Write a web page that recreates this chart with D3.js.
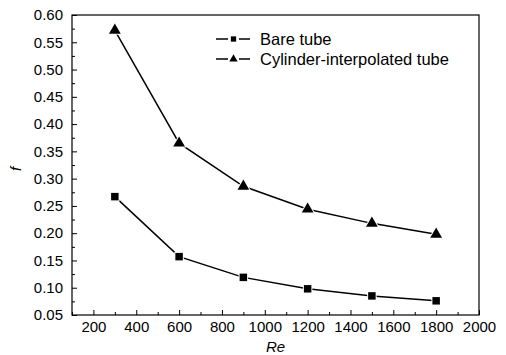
<!DOCTYPE html>
<html>
<head>
<meta charset="utf-8">
<script src="https://cdn.jsdelivr.net/npm/d3@7"></script>
<style>
  body { margin: 0; background: #fff; }
  svg { display: block; font-family: "Liberation Sans", Arial, sans-serif; }
</style>
</head>
<body>
<svg id="chart" width="506" height="355"></svg>
<script>
// Re values and friction factor f
let reValues = [300, 600, 900, 1200, 1500, 1800];
let bareTube = [0.267, 0.157, 0.119, 0.098, 0.085, 0.076];
let cylinderTube = [0.572, 0.365, 0.286, 0.244, 0.218, 0.198];
let seriesNames = ['Bare tube', 'Cylinder-interpolated tube'];
let xTicks = [200, 400, 600, 800, 1000, 1200, 1400, 1600, 1800, 2000];
let yTicks = [0.05, 0.10, 0.15, 0.20, 0.25, 0.30, 0.35, 0.40, 0.45, 0.50, 0.55, 0.60];

let margin = { left: 72, right: 27, top: 15, bottom: 40 };
let width = 506, height = 355;

let svg = d3.select('#chart');

let xScale = d3.scaleLinear()
  .domain([100, 2000])
  .range([margin.left, width - margin.right]);

let yScale = d3.scaleLinear()
  .domain([0.05, 0.60])
  .range([height - margin.bottom, margin.top]);

// frame
svg.append('rect')
  .attr('x', xScale(100))
  .attr('y', yScale(0.60))
  .attr('width', xScale(2000) - xScale(100))
  .attr('height', yScale(0.05) - yScale(0.60))
  .style('fill', 'none')
  .style('stroke', '#000')
  .style('stroke-width', 1.2);

// minor ticks
let xMinor = d3.range(100, 2000, 100).filter(d => d % 200 != 0);
let yMinor = d3.range(0.075, 0.6, 0.05);

let xAxis = d3.axisBottom(xScale).tickValues(xTicks).tickFormat(d3.format('d')).tickSizeInner(-5).tickSizeOuter(0).tickPadding(6);
svg.append('g').attr('transform', `translate(0, ${yScale(0.05)})`).call(xAxis);
svg.append('g').attr('transform', `translate(0, ${yScale(0.05)})`)
  .call(d3.axisBottom(xScale).tickValues(xMinor).tickFormat('').tickSizeInner(-3).tickSizeOuter(0));

let yAxis = d3.axisLeft(yScale).tickValues(yTicks).tickFormat(d3.format('.2f')).tickSizeInner(-5).tickSizeOuter(0).tickPadding(9);
svg.append('g').attr('transform', `translate(${xScale(100)}, 0)`).call(yAxis);
svg.append('g').attr('transform', `translate(${xScale(100)}, 0)`)
  .call(d3.axisLeft(yScale).tickValues(yMinor).tickFormat('').tickSizeInner(-3).tickSizeOuter(0));

svg.selectAll('.domain').remove();
svg.selectAll('.tick line').style('stroke', '#000').style('stroke-width', 1);
svg.selectAll('.tick text')
  .style('font-size', '15px')
  .style('font-family', '"Liberation Sans", Arial, sans-serif')
  .style('fill', '#000');

// axis titles
svg.append('text')
  .attr('x', (xScale(100) + xScale(2000)) / 2)
  .attr('y', 352)
  .attr('text-anchor', 'middle')
  .style('font-size', '15px')
  .style('font-style', 'italic')
  .text('Re');

svg.append('text')
  .attr('transform', `translate(21, ${(yScale(0.05) + yScale(0.60)) / 2 + 4}) rotate(-90)`)
  .attr('text-anchor', 'middle')
  .style('font-size', '15px')
  .style('font-style', 'italic')
  .text('f');

// lines
let lineFn = d3.line()
  .x(d => xScale(d[0]))
  .y(d => yScale(d[1]));

let series = [
  { name: seriesNames[0], values: bareTube, shape: d3.symbolSquare, size: 56 },
  { name: seriesNames[1], values: cylinderTube, shape: d3.symbolTriangle, size: 60 }
];

series.forEach(s => {
  let pts = reValues.map((r, i) => [r, s.values[i]]);
  svg.append('path')
    .attr('d', lineFn(pts))
    .style('fill', 'none')
    .style('stroke', '#000')
    .style('stroke-width', 1.5);
  svg.selectAll(null)
    .data(pts)
    .join('path')
    .attr('transform', d => `translate(${xScale(d[0])}, ${yScale(d[1])})`)
    .attr('d', d3.symbol().type(s.shape).size(s.size))
    .style('fill', '#000')
    .style('stroke', '#fff')
    .style('stroke-width', 2)
    .style('paint-order', 'stroke');
});

// legend
let legend = svg.append('g').attr('transform', 'translate(216, 39)');
series.forEach((s, i) => {
  let g = legend.append('g').attr('transform', `translate(0, ${i * 20})`);
  g.append('line').attr('x1', 0).attr('x2', 12).attr('y1', 0).attr('y2', 0).style('stroke', '#000').style('stroke-width', 1.5);
  g.append('line').attr('x1', 23).attr('x2', 34).attr('y1', 0).attr('y2', 0).style('stroke', '#000').style('stroke-width', 1.5);
  g.append('path')
    .attr('transform', 'translate(17.5, 0)')
    .attr('d', d3.symbol().type(s.shape).size(s.size * 0.5))
    .style('fill', '#000');
  g.append('text')
    .attr('x', 44)
    .attr('y', 6)
    .style('font-size', '16.5px')
    .text(s.name);
});
</script>
</body>
</html>
